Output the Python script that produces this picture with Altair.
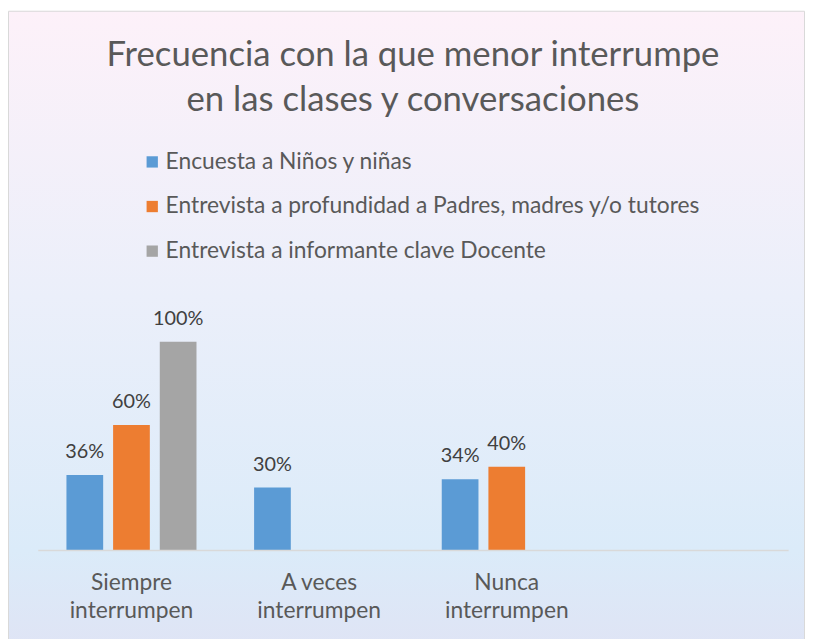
import altair as alt
import pandas as pd

categories = ["Siempre\ninterrumpen", "A veces\ninterrumpen", "Nunca\ninterrumpen", " "]
series = [
    "Encuesta a Niños y niñas",
    "Entrevista a profundidad a Padres, madres y/o tutores",
    "Entrevista a informante clave Docente",
]
ninos = [0.36, 0.30, 0.34]
padres = [0.60, None, 0.40]
docente = [1.00, None, None]
colors = ["#5b9bd5", "#ed7d31", "#a5a5a5"]

rows = []
for s, vals in zip(series, [ninos, padres, docente]):
    for c, v in zip(categories[:3], vals):
        if v is not None:
            rows.append({"cat": c, "serie": s, "valor": v})
df = pd.DataFrame(rows)

W, H = 757, 252
PL, PT, PR, PB = 30, 292, 17, 87
FONT = "Lato"

x = alt.X("cat:N", sort=categories,
          scale=alt.Scale(domain=categories, paddingInner=0.307, paddingOuter=0.153),
          axis=alt.Axis(title=None, labelAngle=0, ticks=False, domainColor="#d9d9d9",
                        domainWidth=1.5, labelFont=FONT, labelFontSize=23,
                        labelColor="#595959", labelPadding=22, labelLineHeight=28,
                        labelExpr="split(datum.label, '\\n')", grid=False, zindex=1))
xo = alt.XOffset("serie:N", sort=series,
                 scale=alt.Scale(domain=series, paddingInner=0.213, paddingOuter=0))
y = alt.Y("valor:Q", scale=alt.Scale(domain=[0, 1.2]), axis=None)

bg = alt.Chart(alt.Data(values=[{}])).mark_rect(
    fill=alt.Gradient(gradient="linear", x1=0, y1=0, x2=0, y2=1,
                      stops=[alt.GradientStop(color="#fdf1f9", offset=0),
                             alt.GradientStop(color="#ebeffa", offset=0.45),
                             alt.GradientStop(color="#dbebf9", offset=0.85),
                             alt.GradientStop(color="#dfe4f5", offset=1)]),
    stroke="#d9d9d9", strokeWidth=1,
).encode(x=alt.value(-PL + 0.5), x2=alt.value(W + PR - 0.5),
         y=alt.value(-PT + 0.5), y2=alt.value(H + PB + 10))

bars = alt.Chart(df).mark_bar().encode(
    x=x, xOffset=xo, y=y,
    color=alt.Color("serie:N", sort=series,
                    scale=alt.Scale(domain=series, range=colors),
                    legend=alt.Legend(title=None, orient="none", legendX=104, legendY=-151,
                                      direction="vertical", symbolType="square",
                                      symbolSize=130, symbolStrokeWidth=0,
                                      labelFont=FONT, labelFontSize=23,
                                      labelColor="#595959", rowPadding=21,
                                      labelLimit=700, labelOffset=2)),
)

labels = alt.Chart(df).mark_text(
    baseline="bottom", dy=-13, font=FONT, fontSize=20, color="#404040"
).encode(x=x, xOffset=xo, y=y, text=alt.Text("valor:Q", format=".0%"))

chart = alt.layer(bg, bars, labels).properties(
    width=W, height=H,
    autosize=alt.AutoSizeParams(type="none"),
    padding={"left": PL, "top": PT, "right": PR, "bottom": PB},
    title=alt.TitleParams(
        text=["Frecuencia con la que menor interrumpe", "en las clases y conversaciones"],
        font=FONT, fontSize=35, fontWeight="normal", color="#595959",
        lineHeight=45, anchor="middle", offset=-143, baseline="bottom"),
).configure_view(stroke=None)

chart.save("out.html", embed_options={"renderer": "svg", "actions": False})
